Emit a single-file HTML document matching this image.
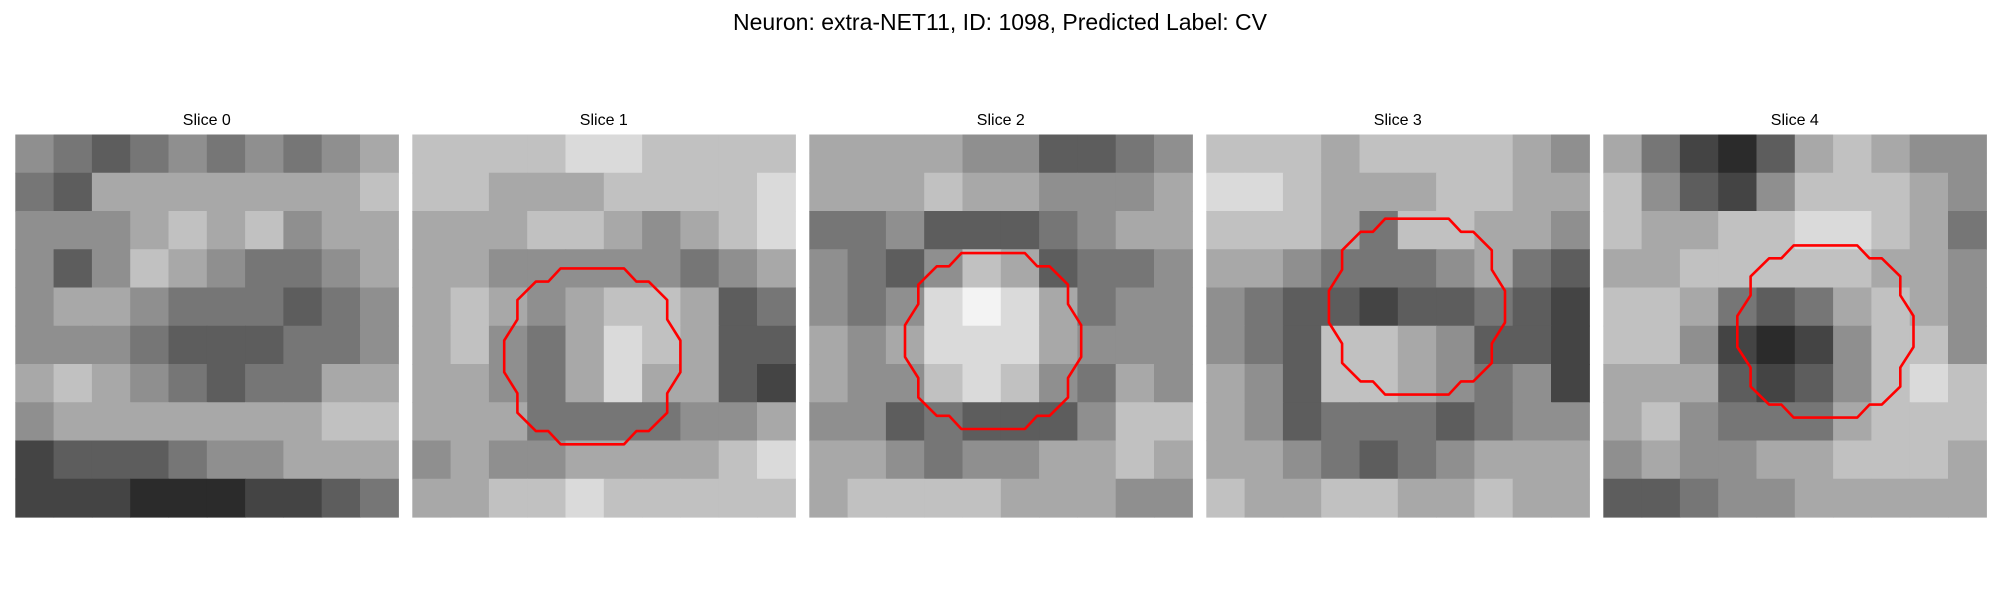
<!DOCTYPE html>
<html><head><meta charset="utf-8"><style>
html,body{margin:0;padding:0;background:#fff;}
svg{display:block;font-family:"Liberation Sans","DejaVu Sans",sans-serif;}
</style></head><body>
<svg id="fig" width="2000" height="600" viewBox="0 0 2000 600">
<text x="1000" y="30" text-anchor="middle" font-size="23" fill="#000">Neuron: extra-NET11, ID: 1098, Predicted Label: CV</text>
</svg>
<script>
const sliceTitles = ["Slice 0","Slice 1","Slice 2","Slice 3","Slice 4"];
const slice0 = [[5,4,3,4,5,4,5,4,5,6],[4,3,6,6,6,6,6,6,6,7],[5,5,5,6,7,6,7,5,6,6],[5,3,5,7,6,5,4,4,5,6],[5,6,6,5,4,4,4,3,4,5],[5,5,5,4,3,3,3,4,4,5],[6,7,6,5,4,3,4,4,6,6],[5,6,6,6,6,6,6,6,7,7],[2,3,3,3,4,5,5,6,6,6],[2,2,2,1,1,1,2,2,3,4]];
const slice1 = [[7,7,7,7,8,8,7,7,7,7],[7,7,6,6,6,7,7,7,7,8],[6,6,6,7,7,6,5,6,7,8],[6,6,5,5,5,5,5,4,5,6],[6,7,6,5,6,7,7,6,3,4],[6,7,5,4,6,8,7,6,3,3],[6,6,5,4,6,8,6,6,3,2],[6,6,6,4,4,4,4,5,5,6],[5,6,5,5,6,6,6,6,7,8],[6,6,7,7,8,7,7,7,7,7]];
const slice2 = [[6,6,6,6,5,5,3,3,4,5],[6,6,6,7,6,6,5,5,5,6],[4,4,5,3,3,3,4,5,6,6],[5,4,3,5,7,6,3,4,4,5],[5,4,5,8,9,8,6,4,5,5],[6,5,6,8,8,8,6,5,5,5],[6,5,5,7,8,7,5,4,6,5],[5,5,3,4,3,3,3,5,7,7],[6,6,5,4,5,5,6,6,7,6],[6,7,7,7,7,6,6,6,5,5]];
const slice3 = [[7,7,7,6,7,7,7,7,6,5],[8,8,7,6,6,6,7,7,6,6],[7,7,7,6,4,7,7,6,6,5],[6,6,5,4,4,4,5,6,4,3],[5,4,3,3,2,3,3,4,3,2],[5,4,3,7,7,6,5,3,3,2],[6,5,3,7,7,6,5,4,5,2],[6,5,3,4,4,4,3,4,5,5],[6,6,5,4,3,4,5,6,6,6],[7,6,6,7,7,6,6,7,6,6]];
const slice4 = [[6,4,2,1,3,6,7,6,5,5],[7,5,3,2,5,7,7,7,6,5],[7,6,6,7,7,8,8,7,6,4],[6,6,7,7,7,7,7,6,6,5],[7,7,6,4,3,4,6,7,6,5],[7,7,5,2,1,2,5,7,7,5],[6,6,6,3,2,3,5,7,8,7],[6,7,5,4,4,4,6,7,7,7],[5,6,5,5,6,6,7,7,7,6],[3,3,4,5,5,6,6,6,6,6]];
const slices = [slice0,slice1,slice2,slice3,slice4];
// contour bounding boxes in image-fraction coords [x0,y0,x1,y1] (null = none)
const contourBoxes = [null,[0.24,0.35,0.70,0.81],[0.25,0.31,0.71,0.77],[0.32,0.22,0.78,0.68],[0.35,0.29,0.81,0.74]];
const contourShape = [[0.32,0],[0.68,0],[0.75,0.075],[0.82,0.075],[0.925,0.18],[0.925,0.29],[1,0.41],[1,0.59],[0.925,0.71],[0.925,0.82],[0.82,0.925],[0.75,0.925],[0.68,1],[0.32,1],[0.25,0.925],[0.18,0.925],[0.075,0.82],[0.075,0.71],[0,0.59],[0,0.41],[0.075,0.29],[0.075,0.18],[0.18,0.075],[0.25,0.075]];

const NS="http://www.w3.org/2000/svg";
const svg=document.getElementById('fig');
const panelX0=15.3, panelStep=397, panelW=383, panelY=134.5, panelH=382.5;
function mk(t,a){const e=document.createElementNS(NS,t);for(const k in a)e.setAttribute(k,a[k]);return e;}
function gray(v){const g=Math.round(18+v*25);return `rgb(${g},${g},${g})`;}
slices.forEach((grid,i)=>{
  const px=panelX0+i*panelStep;
  const g=mk('g',{});
  
  
  svg.appendChild(g);
  const t=mk('text',{x:px+panelW/2,y:125,'text-anchor':'middle','font-size':16,fill:'#000'});
  
  
  t.textContent=sliceTitles[i];
  g.appendChild(t);
  const rows=grid.length, cols=grid[0].length;
  const cw=panelW/cols, ch=panelH/rows;
  grid.forEach((row,r)=>row.forEach((v,c)=>{
    const rc=mk('rect',{x:px+c*cw,y:panelY+r*ch,width:cw+0.6,height:ch+0.6,fill:gray(v)});
    
    
    g.appendChild(rc);
  }));
  const b=contourBoxes[i];
  if(b){
    const x0=px+b[0]*panelW, y0=panelY+b[1]*panelH, w=(b[2]-b[0])*panelW, h=(b[3]-b[1])*panelH;
    const pts=contourShape.map(p=>(x0+p[0]*w).toFixed(1)+','+(y0+p[1]*h).toFixed(1)).join(' ');
    const pg=mk('polygon',{points:pts,fill:'none',stroke:'#ff0000','stroke-width':2.6,'stroke-linejoin':'round'});
    
    
    g.appendChild(pg);
  }
});
</script>
</body></html>
